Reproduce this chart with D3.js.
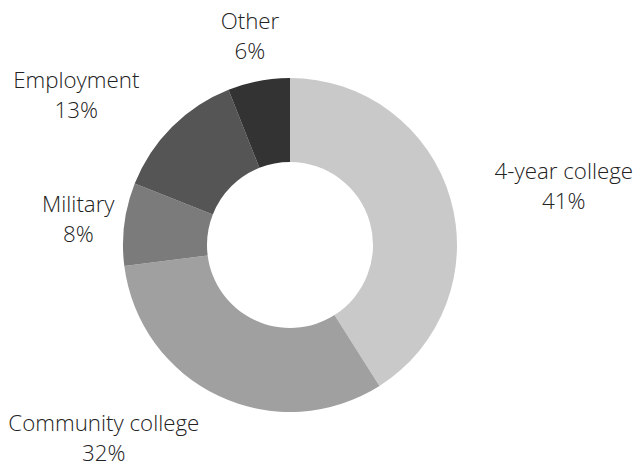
<!DOCTYPE html>
<html>
<head>
<meta charset="utf-8">
<script src="https://cdn.jsdelivr.net/npm/d3@7"></script>
<style>
  body { margin: 0; background: #fff; }
  svg text { font-family: "Open Sans", sans-serif; font-weight: 300; fill: #222; }
</style>
</head>
<body>
<svg width="634" height="464"></svg>
<script>
// values
const categories = ["4-year college", "Community college", "Military", "Employment", "Other"];
const shares = [41, 32, 8, 13, 6];
const colors = ["#c9c9c9", "#a0a0a0", "#7b7b7b", "#555555", "#333333"];

const width = 634, height = 464;
const cx = 290, cy = 245;
const outerR = 167, innerR = 83, labelR = 213;

const svg = d3.select("svg");
const g = svg.append("g").attr("transform", "translate(" + cx + "," + cy + ")");

const data = categories.map(function(c, i){
    return { name: c, value: shares[i], color: colors[i] };
});

const pie = d3.pie().sort(null).value(function(d){ return d.value; });
const arc = d3.arc().innerRadius(innerR).outerRadius(outerR);
const arcs = pie(data);

g.selectAll("path")
    .data(arcs)
    .enter()
    .append("path")
    .attr("d", arc)
    .attr("fill", function(d){ return d.data.color; });

// labels: centred on the mid angle, pushed out when they would touch the ring
const labels = g.selectAll("text.lbl")
    .data(arcs)
    .enter()
    .append("text")
    .attr("class", "lbl")
    .attr("font-size", 22.3)
    .attr("text-anchor", "middle");

labels.append("tspan").attr("x", 0).attr("y", 0).text(function(d){ return d.data.name; });
labels.append("tspan").attr("x", 0).attr("dy", 30).text(function(d){ return d.data.value + "%"; });

labels.each(function(d){
    const a = (d.startAngle + d.endAngle) / 2;
    const ax = labelR * Math.sin(a);
    const ay = -labelR * Math.cos(a);
    const bb = this.getBBox();
    let x = ax - bb.width / 2;
    let y = ay - bb.height / 2;
    // nearest point of the box to the centre
    const nx = Math.max(x, Math.min(0, x + bb.width));
    const ny = Math.max(y, Math.min(0, y + bb.height));
    if (Math.sqrt(nx * nx + ny * ny) < outerR + 4){
        x = ax < 0 ? ax - bb.width : ax;
    }
    d3.select(this).attr("transform",
        "translate(" + (x - bb.x) + "," + (y - bb.y) + ")");
});
</script>
</body>
</html>
